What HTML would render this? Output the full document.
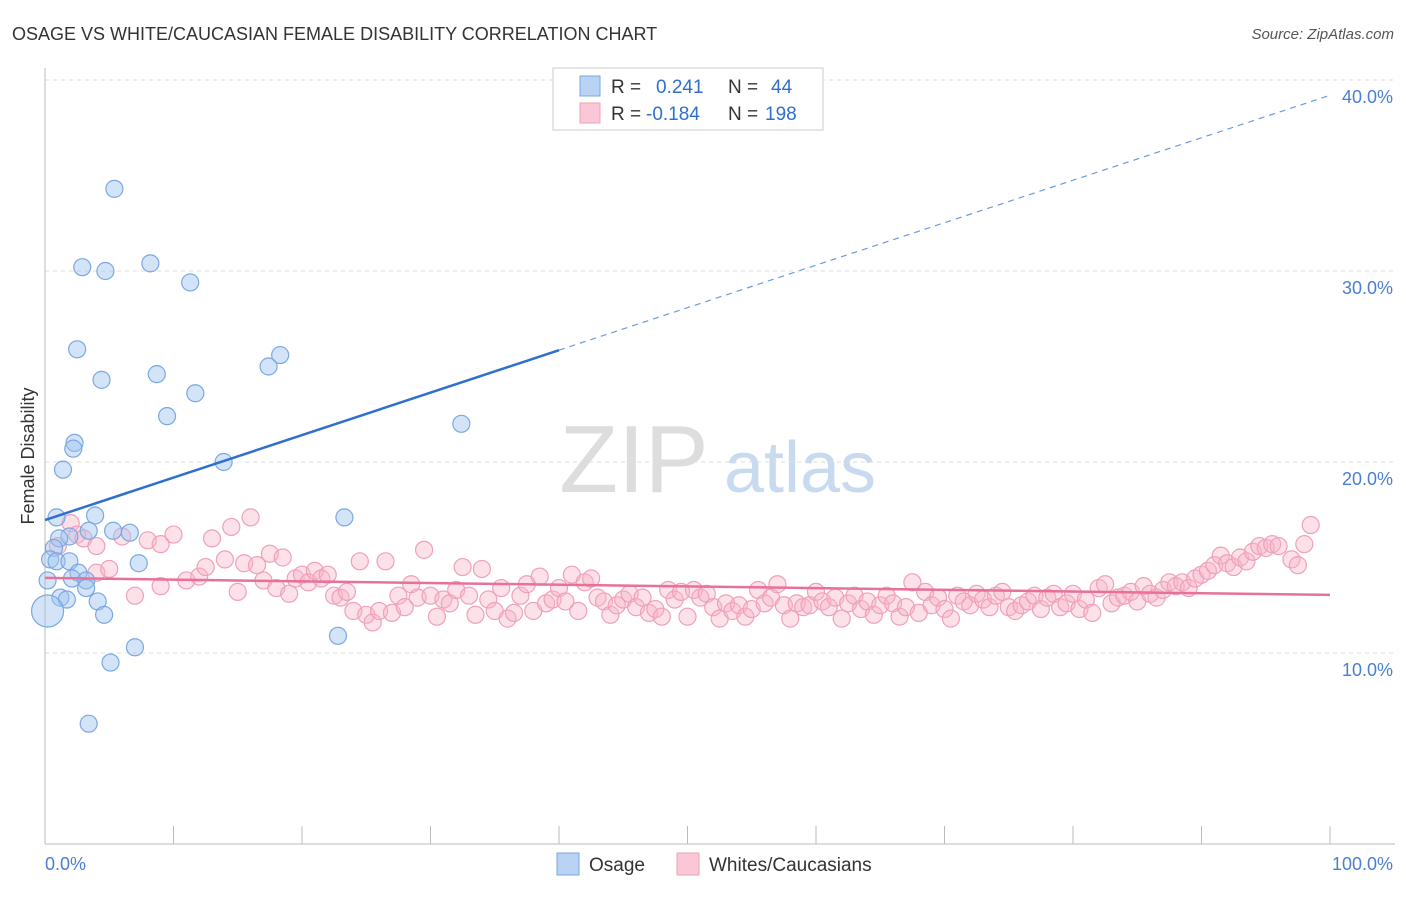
<!DOCTYPE html>
<html><head><meta charset="utf-8"><style>
body{margin:0;background:#fff;font-family:"Liberation Sans",sans-serif;}
svg text{font-family:"Liberation Sans",sans-serif;}
</style></head><body>
<svg id="chart" width="1406" height="892" xmlns="http://www.w3.org/2000/svg">
<text x="12" y="40" font-size="18" fill="#333">OSAGE VS WHITE/CAUCASIAN FEMALE DISABILITY CORRELATION CHART</text>
<text x="1394" y="39" font-size="15" fill="#555" font-style="italic" text-anchor="end">Source: ZipAtlas.com</text>
<text x="634" y="492" font-size="96" fill="#ddd" font-family="Liberation Serif" text-anchor="middle">ZIP</text>
<text x="800" y="492" font-size="72" fill="#c8daf0" text-anchor="middle">atlas</text>
<text transform="translate(34,456) rotate(-90)" font-size="18" fill="#333" text-anchor="middle">Female Disability</text>
<g id="grid"></g><g id="pink"></g><g id="blue"></g><g id="lines"></g>
<g>
<rect x="553" y="68" width="270" height="62" fill="#fff" stroke="#ccc"/>
<rect x="580" y="76" width="20" height="20" fill="#b9d3f4" stroke="#7aa8e0"/>
<rect x="580" y="103" width="20" height="20" fill="#f9c7d6" stroke="#f0a0b8"/>
<text x="611" y="93" font-size="19" fill="#333">R = </text><text x="656" y="93" font-size="19" fill="#2f6fd0">0.241</text>
<text x="728" y="93" font-size="19" fill="#333">N = </text><text x="771" y="93" font-size="19" fill="#2f6fd0">44</text>
<text x="611" y="120" font-size="19" fill="#333">R = </text><text x="646" y="120" font-size="19" fill="#2f6fd0">-0.184</text>
<text x="728" y="120" font-size="19" fill="#333">N = </text><text x="765" y="120" font-size="19" fill="#2f6fd0">198</text>
</g>
<g>
<rect x="557" y="853" width="22" height="22" fill="#b9d3f4" stroke="#7aa8e0"/>
<text x="589" y="871" font-size="19" fill="#333">Osage</text>
<rect x="677" y="853" width="22" height="22" fill="#f9c7d6" stroke="#f0a0b8"/>
<text x="709" y="871" font-size="19" fill="#333">Whites/Caucasians</text>
</g>
<text x="45" y="870" font-size="18" fill="#4a7fd0">0.0%</text>
<text x="1393" y="870" font-size="18" fill="#4a7fd0" text-anchor="end">100.0%</text>
</svg>
<script>
const yTicks=[10,20,30,40];
const blueX=[5.4,2.9,4.7,8.2,11.3,2.5,4.4,8.7,18.3,17.4,11.7,9.5,32.4,2.3,2.2,1.4,13.9,0.9,3.9,23.3,3.4,6.6,5.3,1.9,1.1,0.7,0.4,0.9,1.9,7.3,2.6,2.1,3.2,3.2,1.2,1.7,4.1,4.6,7.0,5.1,3.4,22.8,0.2,0.2];
const blueY=[34.3,30.2,30.0,30.4,29.4,25.9,24.3,24.6,25.6,25.0,23.6,22.4,22.0,21.0,20.7,19.6,20.0,17.1,17.2,17.1,16.4,16.3,16.4,16.1,16.0,15.5,14.9,14.8,14.8,14.7,14.2,13.9,13.8,13.4,12.9,12.8,12.7,12.0,10.3,9.5,6.3,10.9,12.2,13.8];
const pinkX=[1,2,2.5,3,4,4,5,6,7,8,9,9,10,11,12,12.5,13,14,14.5,15,15.5,16,16.5,17,17.5,18,18.5,19,19.5,20,20.5,21,21.5,22,22.5,23,23.5,24,24.5,25,25.5,26,26.5,27,27.5,28,28.5,29,29.5,30,30.5,31,31.5,32,32.5,33,33.5,34,34.5,35,35.5,36,36.5,37,37.5,38,38.5,39,39.5,40,40.5,41,41.5,42,42.5,43,43.5,44,44.5,45,45.5,46,46.5,47,47.5,48,48.5,49,49.5,50,50.5,51,51.5,52,52.5,53,53.5,54,54.5,55,55.5,56,56.5,57,57.5,58,58.5,59,59.5,60,60.5,61,61.5,62,62.5,63,63.5,64,64.5,65,65.5,66,66.5,67,67.5,68,68.5,69,69.5,70,70.5,71,71.5,72,72.5,73,73.5,74,74.5,75,75.5,76,76.5,77,77.5,78,78.5,79,79.5,80,80.5,81,81.5,82,82.5,83,83.5,84,84.5,85,85.5,86,86.5,87,87.5,88,88.5,89,89.5,90,90.5,91,91.5,92,92.5,93,93.5,94,94.5,95,95.5,96,97,97.5,98,98.5];
const pinkY=[15.6,16.8,16.2,16.0,14.2,15.6,14.4,16.1,13.0,15.9,13.5,15.7,16.2,13.8,14.0,14.5,16.0,14.9,16.6,13.2,14.7,17.1,14.6,13.8,15.2,13.4,15.0,13.1,13.9,14.1,13.7,14.3,13.9,14.1,13.0,12.9,13.2,12.2,14.8,12.0,11.6,12.2,14.8,12.1,13.0,12.4,13.6,12.9,15.4,13.0,11.9,12.8,12.6,13.3,14.5,13.0,12.0,14.4,12.8,12.2,13.4,11.8,12.1,13.0,13.6,12.2,14.0,12.6,12.8,13.4,12.7,14.1,12.2,13.7,13.9,12.9,12.7,12.0,12.5,12.8,13.1,12.4,12.9,12.1,12.3,11.9,13.3,12.8,13.2,11.9,13.3,12.9,13.1,12.4,11.8,12.6,12.2,12.5,11.9,12.3,13.3,12.6,12.9,13.6,12.5,11.8,12.6,12.4,12.5,13.2,12.7,12.4,12.9,11.8,12.6,13.0,12.3,12.7,12.0,12.5,13.0,12.6,11.9,12.4,13.7,12.1,13.2,12.5,12.9,12.3,11.8,13.0,12.7,12.5,13.1,12.8,12.4,13.0,13.2,12.4,12.2,12.5,12.7,13.0,12.3,12.9,13.1,12.4,12.6,13.1,12.3,12.8,12.1,13.4,13.6,12.6,12.9,13.0,13.2,12.7,13.5,13.1,12.9,13.3,13.7,13.5,13.7,13.4,13.9,14.1,14.3,14.6,15.1,14.7,14.5,15.0,14.8,15.3,15.6,15.5,15.7,15.6,14.9,14.6,15.7,16.7];
const blueTrend=[16.96,39.2];
const pinkTrend=[13.93,13.04];
const NS='http://www.w3.org/2000/svg';
const X=v=>45+v*12.85, Y=v=>844-v*19.1;
function mk(t,a,p){const e=document.createElementNS(NS,t);for(const k in a)e.setAttribute(k,a[k]);document.getElementById(p).appendChild(e);return e;}
yTicks.forEach(t=>{
 const l=mk('line',{x1:45,x2:1395,y1:Y(t),y2:Y(t),stroke:'#ddd','stroke-dasharray':'4,4'},'grid');
 
 
 const tx=mk('text',{x:1393,y:Y(t)+23,'font-size':18,fill:'#4a7fd0','text-anchor':'end'},'grid');
 tx.textContent=t.toFixed(1)+'%';
 
 
});
mk('line',{x1:45,x2:45,y1:68,y2:844,stroke:'#bbb'},'grid');
mk('line',{x1:45,x2:1395,y1:844,y2:844,stroke:'#bbb'},'grid');
for(let i=1;i<=10;i++){const l=mk('line',{x1:X(i*10),x2:X(i*10),y1:826,y2:844,stroke:'#bbb'},'grid');
 
 }
pinkX.forEach((x,i)=>{const c=mk('circle',{cx:X(x),cy:Y(pinkY[i]),r:8.5,fill:'rgba(248,180,200,0.4)',stroke:'#f0a0b8','stroke-width':1.2},'pink');
 
 });
blueX.forEach((x,i)=>{const c=mk('circle',{cx:X(x),cy:Y(blueY[i]),r:i==42?16:8.5,fill:'rgba(160,196,240,0.45)',stroke:'#7aa8e0','stroke-width':1.2},'blue');
 
 });
const by=x=>blueTrend[0]+(blueTrend[1]-blueTrend[0])*x/100;
let l1=mk('line',{x1:X(0),y1:Y(by(0)),x2:X(40),y2:Y(by(40)),stroke:'#2f6fd0','stroke-width':2.5},'lines');


let l2=mk('line',{x1:X(40),y1:Y(by(40)),x2:X(100),y2:Y(by(100)),stroke:'#6a9ae0','stroke-width':1.2,'stroke-dasharray':'6,5'},'lines');


let l3=mk('line',{x1:X(0),y1:Y(pinkTrend[0]),x2:X(100),y2:Y(pinkTrend[1]),stroke:'#e8709a','stroke-width':2.5},'lines');


</script>
</body></html>
